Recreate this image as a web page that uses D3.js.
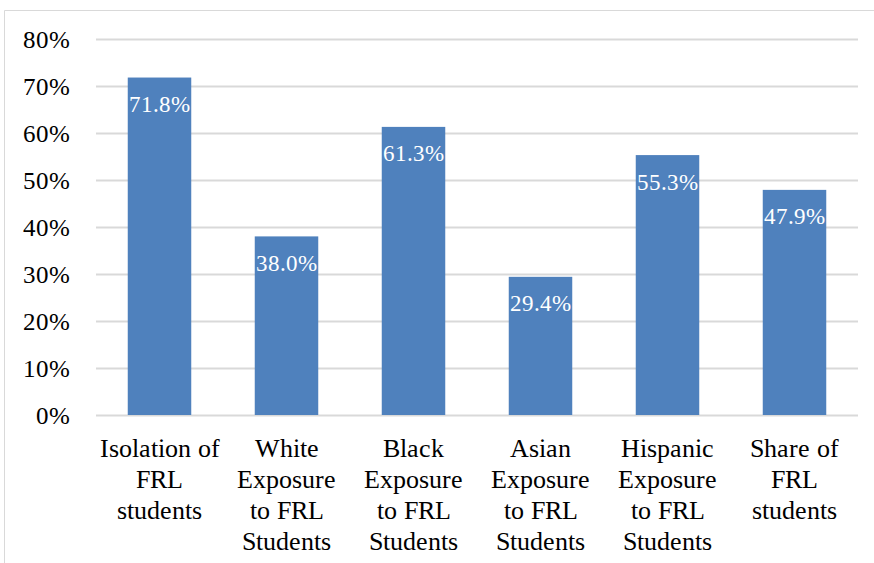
<!DOCTYPE html>
<html>
<head>
<meta charset="utf-8">
<script src="https://cdn.jsdelivr.net/npm/d3@7"></script>
<style>
  @font-face {
    font-family: "ChartSerif";
    src: local("Liberation Serif"), local("LiberationSerif"), local("LiberationSerif-Regular"), local("Times New Roman");
  }
</style>
</head>
<body style="margin:0">
<svg id="chart" width="874" height="563"></svg>
<script>
// Daten
const categories = [
  ["Isolation of", "FRL", "students"],
  ["White", "Exposure", "to FRL", "Students"],
  ["Black", "Exposure", "to FRL", "Students"],
  ["Asian", "Exposure", "to FRL", "Students"],
  ["Hispanic", "Exposure", "to FRL", "Students"],
  ["Share of", "FRL", "students"]
];
const values = [71.8, 38.0, 61.3, 29.4, 55.3, 47.9];
const yTicks = [0, 10, 20, 30, 40, 50, 60, 70, 80];

const fontName = "ChartSerif, Liberation Serif, serif";
const svg = d3.select("#chart");

// Rahmen
svg.append("path")
    .attr("d", "M4.5,563 V10.5 H874")
    .attr("fill", "none")
    .attr("stroke", "#d9d9d9")
    .attr("stroke-width", 1);

// Skalen
const x = d3.scaleBand()
    .domain(d3.range(categories.length))
    .range([96, 858])
    .paddingInner(0.5)
    .paddingOuter(0.25);

const y = d3.scaleLinear()
    .domain([0, 80])
    .range([415, 39]);

// Gitterlinien
svg.append("g")
    .selectAll("line")
    .data(yTicks)
    .join("line")
    .attr("x1", 96)
    .attr("x2", 858)
    .attr("y1", d => Math.round(y(d)) + 0.5)
    .attr("y2", d => Math.round(y(d)) + 0.5)
    .attr("stroke", "#d9d9d9")
    .attr("stroke-width", 2);

// Y-Achse Beschriftung
svg.append("g")
    .selectAll("text")
    .data(yTicks)
    .join("text")
    .attr("x", 70)
    .attr("y", d => y(d) + 9)
    .attr("text-anchor", "end")
    .style("font-family", fontName)
    .attr("font-size", "25px")
    .attr("fill", "#000")
    .text(d => d + "%");

// Balken
svg.append("g")
    .selectAll("rect")
    .data(values)
    .join("rect")
    .attr("x", (d, i) => x(i))
    .attr("y", d => y(d))
    .attr("width", x.bandwidth())
    .attr("height", d => y(0) - y(d))
    .attr("fill", "#4f81bd");

// Wertbeschriftung
svg.append("g")
    .selectAll("text")
    .data(values)
    .join("text")
    .attr("x", (d, i) => x(i) + x.bandwidth() / 2)
    .attr("y", d => y(d) + 34.5)
    .attr("text-anchor", "middle")
    .style("font-family", fontName)
    .attr("font-size", "23px")
    .attr("fill", "#fff")
    .text(d => d.toFixed(1) + "%");

// Kategorien (eine Textzeile je Element)
categories.forEach((lines, i) => {
    lines.forEach((line, j) => {
        svg.append("text")
            .attr("x", x(i) + x.bandwidth() / 2)
            .attr("y", 457 + j * 31)
            .attr("text-anchor", "middle")
            .style("font-family", fontName)
            .attr("font-size", "26px")
            .attr("fill", "#000")
            .text(line);
    });
});
</script>
</body>
</html>
